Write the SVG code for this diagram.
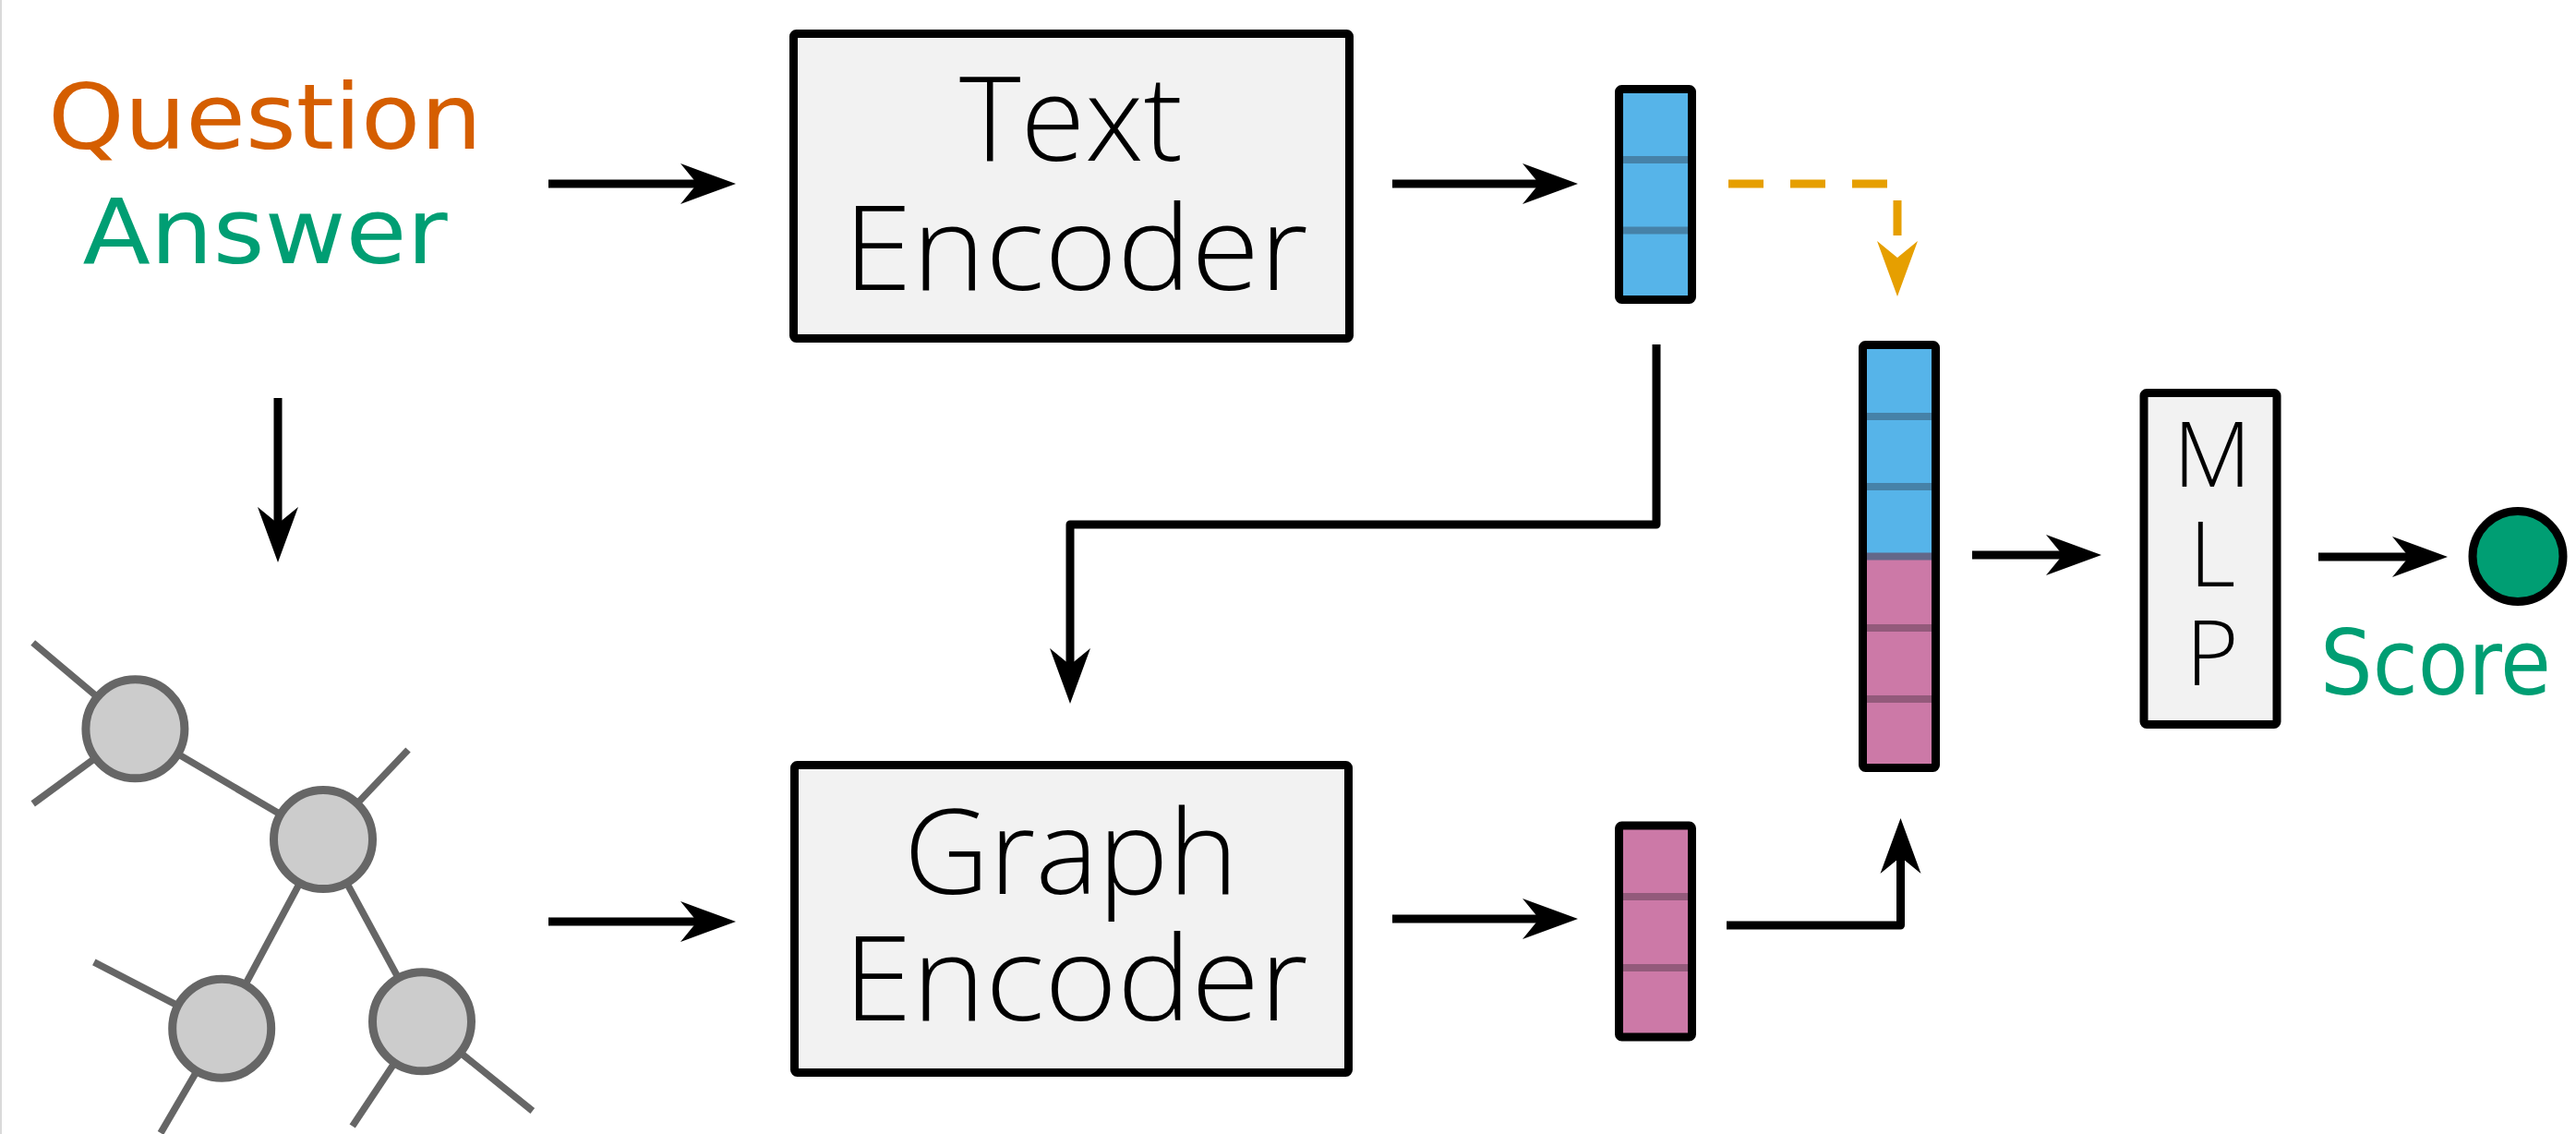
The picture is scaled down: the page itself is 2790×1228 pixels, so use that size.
<svg xmlns="http://www.w3.org/2000/svg" width="2790" height="1228" viewBox="0 0 2790 1228">
<style>
.box{fill:#F2F2F2;stroke:#000;stroke-width:9;}
.lbl{font-family:"Open Sans","DejaVu Sans",sans-serif;font-weight:350;font-size:127px;fill:#000;text-anchor:middle;}
.mlp{font-family:"Open Sans","DejaVu Sans",sans-serif;font-weight:350;font-size:98px;fill:#000;text-anchor:middle;}
.side{font-family:"DejaVu Sans","Liberation Sans",sans-serif;font-size:98px;text-anchor:middle;}
.vecout{fill:none;stroke:#000;stroke-width:9;}
.blue{fill:#56B4E9;}
.pink{fill:#CC79A7;}
.bdiv{fill:#4682A8;}
.pdiv{fill:#935A7B;}
.con{fill:none;stroke:#000;stroke-width:9;stroke-linejoin:round;marker-end:url(#ah);}
.dash{fill:none;stroke:#E69F00;stroke-width:9;stroke-dasharray:38 29;marker-end:url(#aho);}
.edge{stroke:#666666;stroke-width:7.5;}
.gnode{fill:#CCCCCC;stroke:#666666;stroke-width:9;}
</style>
<defs>
<marker id="ah" markerUnits="userSpaceOnUse" markerWidth="60" markerHeight="44" viewBox="0 -22 60 44" refX="18" refY="0" orient="auto" overflow="visible">
<path d="M0,-22 L60,0 L0,22 L18,0 Z" fill="#000"/>
</marker>
<marker id="aho" markerUnits="userSpaceOnUse" markerWidth="60" markerHeight="44" viewBox="0 -22 60 44" refX="18" refY="0" orient="auto" overflow="visible">
<path d="M0,-22 L60,0 L0,22 L18,0 Z" fill="#E69F00"/>
</marker>
</defs>
<rect x="0" y="0" width="2790" height="1228" fill="#fff"/>
<rect x="0" y="0" width="2" height="1228" fill="#d9d9d9"/>

<g id="question-answer">
<text class="side" x="287" y="161" fill="#D55E00" textLength="470" lengthAdjust="spacingAndGlyphs">Question</text>
<text class="side" x="287" y="285" fill="#009E73" textLength="395" lengthAdjust="spacingAndGlyphs">Answer</text>
</g>

<g id="graph">
<line class="edge" x1="35.7" y1="696" x2="146.4" y2="789.3"/>
<line class="edge" x1="35.7" y1="870.4" x2="146.4" y2="789.3"/>
<line class="edge" x1="146.4" y1="789.3" x2="350" y2="909"/>
<line class="edge" x1="442" y1="812" x2="350" y2="909"/>
<line class="edge" x1="350" y1="909" x2="240.2" y2="1113.7"/>
<line class="edge" x1="350" y1="909" x2="457" y2="1106.3"/>
<line class="edge" x1="101.8" y1="1041.8" x2="240.2" y2="1113.7"/>
<line class="edge" x1="174" y1="1227" x2="240.2" y2="1113.7"/>
<line class="edge" x1="381.7" y1="1219.5" x2="457" y2="1106.3"/>
<line class="edge" x1="576.8" y1="1203" x2="457" y2="1106.3"/>
<circle class="gnode" cx="146.4" cy="789.3" r="53.5"/>
<circle class="gnode" cx="350" cy="909" r="53.5"/>
<circle class="gnode" cx="240.2" cy="1113.7" r="53.5"/>
<circle class="gnode" cx="457" cy="1106.3" r="53.5"/>
</g>

<g id="text-encoder">
<rect class="box" x="859.5" y="36.5" width="602" height="330" rx="3"/>
<text class="lbl"><tspan x="1160" y="174">Text</tspan><tspan x="1165" y="314" textLength="503" lengthAdjust="spacingAndGlyphs">Encoder</tspan></text>
</g>

<g id="graph-encoder">
<rect class="box" x="860.5" y="828.5" width="600" height="333" rx="3"/>
<text class="lbl"><tspan x="1160" y="968" textLength="362" lengthAdjust="spacingAndGlyphs">Graph</tspan><tspan x="1165" y="1105" textLength="503" lengthAdjust="spacingAndGlyphs">Encoder</tspan></text>
</g>

<g id="text-vector">
<rect class="blue" x="1753.5" y="96.5" width="79" height="228"/>
<rect class="bdiv" x="1758" y="169" width="70" height="8"/>
<rect class="bdiv" x="1758" y="245.5" width="70" height="8"/>
<rect class="vecout" x="1753.5" y="96.5" width="79" height="228" rx="3"/>
</g>

<g id="graph-vector">
<rect class="pink" x="1753.5" y="894" width="79" height="229"/>
<rect class="pdiv" x="1758" y="967" width="70" height="8"/>
<rect class="pdiv" x="1758" y="1044" width="70" height="8"/>
<rect class="vecout" x="1753.5" y="894" width="79" height="229" rx="3"/>
</g>

<g id="concat-vector">
<rect class="blue" x="2017.5" y="373.5" width="79" height="229"/>
<rect class="pink" x="2017.5" y="602.5" width="79" height="228"/>
<rect class="bdiv" x="2022" y="447" width="70" height="8"/>
<rect class="bdiv" x="2022" y="523" width="70" height="8"/>
<rect x="2022" y="598.5" width="70" height="8" fill="#636789"/>
<rect class="pdiv" x="2022" y="676" width="70" height="8"/>
<rect class="pdiv" x="2022" y="753" width="70" height="8"/>
<rect class="vecout" x="2017.5" y="373.5" width="79" height="458" rx="3"/>
</g>

<g id="mlp">
<rect class="box" x="2322" y="425.5" width="144" height="359" rx="3"/>
<text class="mlp"><tspan x="2396" y="527">M</tspan><tspan x="2396" y="635">L</tspan><tspan x="2396" y="742">P</tspan></text>
</g>

<g id="score">
<circle cx="2727" cy="602.5" r="49" fill="#009E73" stroke="#000" stroke-width="9"/>
<text class="side" x="2638" y="752" fill="#009E73" font-size="85" textLength="250" lengthAdjust="spacingAndGlyphs">Score</text>
</g>

<g id="connectors">
<path class="con" d="M594,199 H755"/>
<path class="con" d="M1508,199 H1667"/>
<path class="dash" d="M1872,199 H2055 V279"/>
<path class="con" d="M1794,373 V568 H1159 V720"/>
<path class="con" d="M301,431 V567"/>
<path class="con" d="M594,998 H755"/>
<path class="con" d="M1508,995 H1667"/>
<path class="con" d="M1870,1002 H2058.5 V928"/>
<path class="con" d="M2136,601 H2234"/>
<path class="con" d="M2511,603 H2609"/>
</g>
</svg>
